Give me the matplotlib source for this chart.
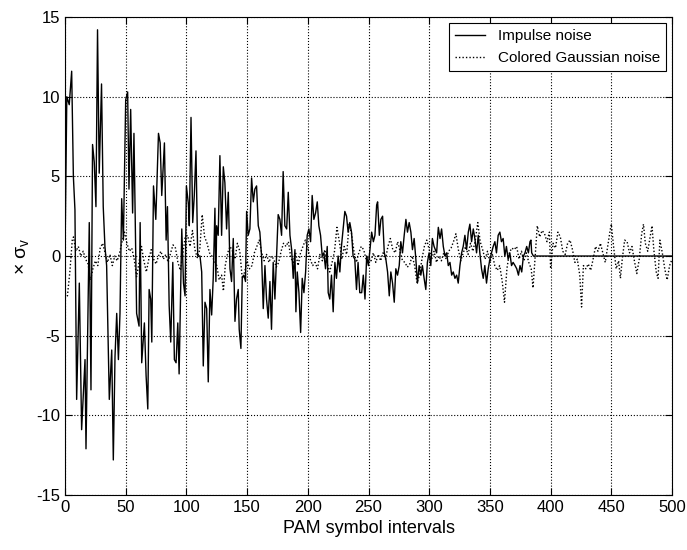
import matplotlib
matplotlib.use('Agg')  # no display here
import matplotlib.pyplot as plt

# Impulse noise: vertices
impulse_x = [0, 1.5, 3.5, 5.5, 6.9, 8.2, 9.6, 11.8, 13.7, 16.5, 17.3, 20.0, 21.4, 22.7, 24.1, 25.5,
             26.8, 28.2, 30.1, 31.5, 32.9, 34.3, 36.5, 38.5, 39.8, 41.2, 42.6, 44.0, 45.3, 46.7, 48.1,
             50.0, 51.6, 52.7, 54.1, 55.7, 56.8, 59.0, 61.0, 61.9, 63.2, 65.4, 66.8, 68.2, 69.3, 70.6,
             71.5, 72.9, 74.8, 77.0, 78.4, 79.7, 81.9, 83.3, 84.4, 85.8, 87.1, 88.8, 90.1, 91.5, 92.9,
             94.0, 95.4, 96.2, 97.6, 98.9, 100.0, 101.6, 102.4, 103.8, 105.2, 106.5, 107.9, 109.3,
             111.2, 112.6, 113.9, 115.3, 116.7, 118.0, 119.4, 120.8, 122.1, 123.5, 124.3, 124.9, 126.2,
             127.6, 129.0, 130.4, 131.7, 133.1, 134.5, 135.9, 137.2, 138.6, 140.0, 141.3, 142.7, 143.5,
             144.9, 146.0, 147.4, 148.7, 149.6, 150.9, 152.3, 153.7, 155.1, 156.4, 157.8, 159.2, 160.5,
             161.9, 163.3, 164.7, 166.0, 167.4, 168.8, 170.1, 171.5, 172.9, 174.2, 175.6, 177.0, 178.4,
             179.7, 181.1, 182.6, 183.9, 185.3, 186.7, 188.0, 189.4, 190.2, 191.3, 192.7, 194.1, 195.4,
             196.8, 198.2, 199.5, 200.9, 202.3, 203.6, 205.0, 206.4, 207.8, 209.1, 210.5, 211.9, 213.2,
             214.6, 216.0, 216.8, 218.1, 219.5, 220.9, 222.3, 223.6, 225.0, 226.4, 227.7, 229.1, 230.5,
             231.9, 233.2, 234.6, 236.0, 237.3, 238.7, 240.1, 241.4, 242.8, 244.4, 245.7, 247.1, 248.5,
             249.9, 251.2, 252.6, 254.0, 255.3, 256.7, 257.5, 258.9, 260.2, 261.6, 263.0, 264.3, 265.7,
             267.1, 268.4, 269.8, 271.2, 272.5, 273.9, 275.3, 276.6, 278.0, 279.4, 280.8, 282.1, 283.5,
             284.9, 286.2, 287.6, 289.0, 290.3, 291.7, 293.1, 294.4, 295.8, 297.2, 298.5, 299.9, 301.3,
             302.6, 304.0, 306.1, 307.5, 308.9, 310.2, 311.6, 313.0, 314.4, 315.7, 317.1, 318.5, 319.8,
             321.2, 322.6, 323.9, 325.3, 326.7, 328.0, 329.4, 330.8, 332.2, 333.5, 334.9, 336.3, 337.6,
             339.0, 340.4, 341.7, 343.1, 344.5, 345.8, 347.2, 348.6, 350.0, 351.3, 352.7, 354.1, 355.4,
             356.8, 358.2, 359.5, 360.9, 362.3, 363.6, 365.0, 366.4, 367.8, 369.1, 370.7, 372.1, 373.5,
             374.8, 376.2, 377.6, 378.9, 380.3, 381.7, 383.0, 383.8, 384.4, 385.8, 500]
impulse_y = [0, 10.0, 9.5, 11.6, 5.0, 2.9, -9.0, -1.7, -10.9, -6.5, -12.1, 2.1, -8.4, 7.0, 5.9, 3.1,
             14.2, 5.2, 10.8, 3.1, 0.6, -0.6, -9.0, -5.9, -12.8, -6.3, -3.6, -6.5, -3.6, 3.6, 1.0,
             9.8, 10.3, 4.2, 9.2, 2.7, 7.7, -3.6, -4.4, 2.1, -6.7, -4.2, -7.5, -9.6, -2.1, -2.7,
             -5.4, 4.4, 2.3, 7.7, 7.1, 3.8, 7.1, 1.0, 3.1, -3.1, -5.4, -0.4, -6.5, -6.7, -4.2,
             -7.4, -1.7, 1.7, -1.7, -2.5, 4.4, 3.3, 1.9, 8.7, 2.1, 3.8, 6.6, 0.0,
             0.0, -1.0, -6.9, -2.9, -3.3, -7.9, -2.1, -3.7, -1.4, 3.0, -1.6, 1.9, 1.3,
             6.3, 1.3, 5.6, 4.6, 1.7, 4.0, -0.8, -1.6, 1.1, -4.1, -2.7, -2.1, -4.6,
             -5.8, -1.4, -1.2, -1.6, 2.8, 1.3, 1.7, 4.9, 3.4, 4.2, 4.4, 1.9, 1.5,
             0.0, -3.3, -0.6, -2.7, -3.9, -1.6, -4.6, -0.4, -2.7, -0.2, 2.6, 2.3, 1.3,
             5.3, 1.9, 1.7, 4.0, 1.3, 0.4, -1.4, 0.4, -3.5, -1.0, -2.3, -4.8, -1.4,
             -2.3, -1.0, 1.3, 1.7, 0.9, 3.8, 2.3, 2.7, 3.4, 1.9, 1.3, 0.0, 0.2,
             -0.8, 0.6, -2.3, -2.7, -1.2, -3.5, -0.4, -1.4, 0.0, -1.0, 0.6, 1.7, 2.8,
             2.5, 1.5, 2.1, 1.5, 0.0, -0.2, -2.1, -0.4, -2.3, -2.3, -1.2, -2.7, 0.0,
             -0.6, 0.4, 1.5, 0.9, 1.3, 3.2, 3.4, 1.3, 2.3, 2.5, 0.2, -0.2, -1.0,
             -2.5, -1.0, -1.7, -2.9, -0.8, -1.2, -0.6, 0.9, 0.2, 1.3, 2.3, 1.5, 2.1,
             1.5, 0.4, 1.1, -0.2, -1.7, -0.6, -1.2, -0.6, -1.4, -2.1, -0.4, 0.2, -0.6,
             1.1, 0.6, 0.2, 1.8, 1.1, 1.7, 0.6, 0.0, 0.2, -0.6, -0.4, -1.2, -1.0,
             -1.4, -1.2, -1.7, -0.6, 0.2, 0.6, 1.3, 0.4, 1.5, 2.0, 0.9, 1.7, 1.1,
             0.2, 1.3, 0.2, -0.8, -1.4, -0.6, -1.7, -0.8, -0.2, 0.2, 0.6, 0.9, 0.2,
             1.3, 1.5, 0.9, 1.1, 0.0, 0.6, -0.2, 0.2, -0.6, -0.4, -0.6, -0.8, -1.2,
             -0.6, -1.0, 0.0, 0.2, 0.6, 0.2, 0.9, 1.0, 0.2, 0.0, 0.0]

# Colored Gaussian noise (dotted curve)
gauss_x = [0, 2, 4, 6, 7, 9, 11, 13, 15, 17, 19, 21, 23, 25, 27, 29, 31, 33, 35, 37, 39, 41, 43, 45,
           47, 49, 51, 53, 55, 57, 59, 61, 63, 65, 67, 69, 71, 73, 75, 77, 79, 81, 83, 85, 87, 89,
           91, 93, 95, 97, 99, 101, 103, 105, 107, 109, 111, 113, 115, 117, 119, 121, 123, 125,
           127, 129, 130.5, 132, 134, 136, 138, 140, 142, 144, 146, 148, 150, 152, 154, 156, 158,
           160, 162, 164, 166, 168, 170, 172, 174, 176, 178, 180, 182, 184, 186, 188, 190, 192,
           194, 196, 198, 200, 202, 204, 206, 208, 210, 212, 214, 216, 218, 220, 222, 224, 226,
           228, 230, 232, 234, 236, 238, 240, 242, 244, 246, 248, 250, 252, 254, 256, 258, 260,
           262, 264, 266, 268, 270, 272, 274, 276, 278, 280, 282, 284, 286, 288, 290, 292, 294,
           296, 298, 300, 302, 304, 306, 308, 310, 312, 314, 316, 318, 320, 322, 324, 326, 328,
           330, 332, 334, 336, 338, 340, 342, 344, 346, 348, 350, 352, 354, 356, 358, 360, 362,
           364, 366, 368, 370, 372, 374, 376, 378, 380, 382, 384, 385.5, 387, 389, 391, 393, 395,
           397, 399, 400, 402, 404, 406, 408, 410, 412, 414, 416, 418, 420, 422, 424, 425.5, 427,
           429, 431, 433, 435, 437, 439, 441, 443, 445, 447, 449, 450, 452, 454, 456, 457.5, 459,
           461, 463, 465, 467, 469, 471, 473, 475, 476.5, 478, 480, 482, 483.5, 485, 487, 488.5,
           490, 492, 494, 496, 498, 500]
gauss_y = [-2.3, -2.5, -1.0, 1.0, 1.2, 0.3, 0.6, 0.0, 0.3, -0.2, -0.5, -1.5, -0.8, -0.3, -0.6, 0.5,
           0.8, 0.2, -0.4, 0.1, -0.6, 0.0, -0.3, 0.2, 0.9, 1.5, 0.8, 0.3, 0.5, -0.2, -1.3, -0.4,
           0.6, -0.3, -1.0, -0.2, 0.4, -0.2, -0.5, 0.0, 0.3, -0.2, 0.1, -0.4, 0.2, 0.7, 0.5, -0.4,
           -0.9, 0.1, 1.2, 1.3, 0.6, 1.6, 0.4, -0.1, 0.4, 2.6, 1.2, 0.8, 0.2, 0.0, -0.3, -0.6,
           -1.5, -1.2, -2.2, -0.6, 0.2, 0.6, 0.3, -0.2, 0.8, 0.3, -1.4, -1.0, -0.3, -0.8, -0.6,
           0.2, 0.6, 1.0, 0.2, -0.3, 0.1, -0.4, 0.0, -0.2, -0.7, -0.4, 0.3, 0.8, 0.6, 0.9, -0.1,
           -0.4, 0.2, -0.6, 0.2, 0.6, 1.0, 0.5, -0.2, -0.6, -0.4, -0.8, 0.1, -0.3, 0.4, -0.5,
           -1.0, -0.4, 0.3, 1.8, 0.9, -0.2, 0.6, 0.1, 2.0, 1.4, 0.3, -0.4, 0.2, 0.6, 0.4, -0.2,
           0.0, -0.3, 0.2, -0.4, 0.1, -0.3, 0.2, -0.2, 0.6, 1.1, 0.4, 0.2, 0.9, 0.3, -0.3, -0.4,
           -0.7, -0.5, 0.0, -0.6, -1.7, -1.2, -0.2, 0.6, 1.0, 0.4, -0.2, 0.3, -0.4, 0.0, -0.3,
           0.2, -0.2, 0.3, 0.5, 0.9, 1.4, 0.4, -0.3, 0.2, 0.6, 0.1, 0.8, 0.3, 1.0, 2.1, 0.9, 0.4,
           -0.2, 0.3, -0.4, 0.1, -0.6, -0.9, -0.6, -1.5, -2.9, -0.8, 0.2, 0.5, 0.4, 0.6, -0.2,
           0.3, -0.3, 0.2, -0.4, -0.8, -2.0, -0.3, 1.9, 1.2, 1.6, 1.4, 0.9, 1.5, -0.8, 0.8, 0.5,
           1.5, 1.2, 0.3, 0.1, 0.8, 1.0, 0.4, -0.4, -0.2, -1.2, -3.2, -0.6, -0.8, -0.5, -0.9,
           -0.2, 0.6, 0.3, 0.8, 0.2, -0.4, 0.6, 1.6, 2.0, 0.5, -0.8, -0.3, -1.4, -0.2, 1.0, 0.9,
           0.2, 0.6, -0.3, -1.1, -0.2, 1.4, 2.0, 0.8, 0.3, 1.2, 1.9, 0.4, -1.0, -1.4, 1.0, 0.2,
           -0.8, -1.5, -0.6, -0.2]

x_ticks = [0, 50, 100, 150, 200, 250, 300, 350, 400, 450, 500]
y_ticks = [-15, -10, -5, 0, 5, 10, 15]

plt.rcParams['font.family'] = ['Liberation Sans', 'DejaVu Sans']
plt.rcParams['axes.unicode_minus'] = False  # plain hyphen like the original
plt.rcParams['mathtext.fontset'] = 'custom'
plt.rcParams['mathtext.rm'] = 'Liberation Sans'
plt.rcParams['mathtext.it'] = 'Liberation Sans'

fig = plt.figure(figsize=(6.87, 5.5), dpi=100)
ax = fig.add_axes([0.0946, 0.1, 0.8836, 0.869])

ax.plot(impulse_x, impulse_y, color='black', linewidth=1.0, label='Impulse noise')
ax.plot(gauss_x, gauss_y, color='black', linestyle=(0, (1, 1.5)), linewidth=1.0,
        label='Colored Gaussian noise')

ax.set_xlim(0, 500)
ax.set_ylim(-15, 15)
ax.set_xticks(x_ticks)
ax.set_yticks(y_ticks)
ax.tick_params(direction='in', top=True, right=True, labelsize=12, length=5)
ax.grid(True, color='black', linestyle=':', linewidth=0.8)

ax.set_xlabel('PAM symbol intervals', fontsize=13)
ax.set_ylabel(r'$\times\ \sigma_v$', fontsize=14)

leg = ax.legend(loc='upper right', fontsize=11, fancybox=False, framealpha=1,
                edgecolor='black', borderaxespad=0.4, handlelength=2.0)
leg.get_frame().set_linewidth(0.8)

plt.savefig('out.png', dpi=100)
